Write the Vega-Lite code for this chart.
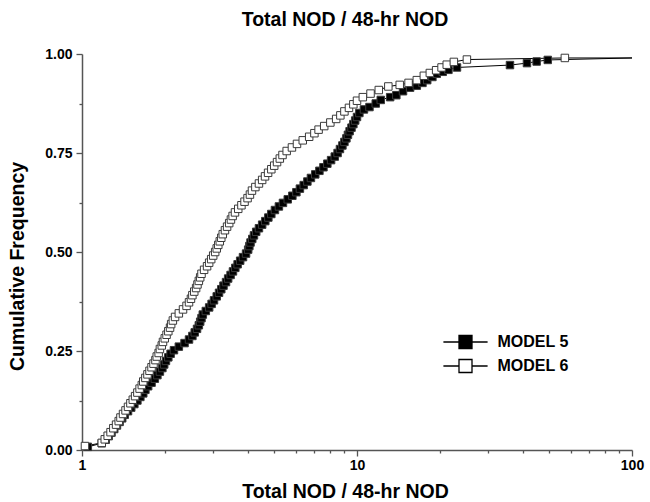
{
  "$schema": "https://vega.github.io/schema/vega-lite/v6.json",
  "width": 550,
  "height": 396,
  "autosize": "none",
  "padding": {"left": 82, "top": 54, "right": 18, "bottom": 52},
  "background": "white",
  "title": {"text": "Total NOD / 48-hr NOD", "font": "Liberation Sans", "fontSize": 19.5, "fontWeight": "bold", "color": "#000", "offset": 17, "dx": -12},
  "config": {"view": {"stroke": null}, "axis": {"grid": false}},
  "data": {"values": [
    {"model":"MODEL 5","x":1.05,"y":0.008},{"model":"MODEL 5","x":1.18,"y":0.017},{"model":"MODEL 5","x":1.22,"y":0.026},{"model":"MODEL 5","x":1.25,"y":0.035},{"model":"MODEL 5","x":1.28,"y":0.044},
    {"model":"MODEL 5","x":1.31,"y":0.053},{"model":"MODEL 5","x":1.34,"y":0.062},{"model":"MODEL 5","x":1.37,"y":0.071},{"model":"MODEL 5","x":1.40,"y":0.080},{"model":"MODEL 5","x":1.43,"y":0.089},
    {"model":"MODEL 5","x":1.47,"y":0.098},{"model":"MODEL 5","x":1.51,"y":0.107},{"model":"MODEL 5","x":1.55,"y":0.116},{"model":"MODEL 5","x":1.59,"y":0.125},{"model":"MODEL 5","x":1.63,"y":0.134},
    {"model":"MODEL 5","x":1.67,"y":0.143},{"model":"MODEL 5","x":1.70,"y":0.152},{"model":"MODEL 5","x":1.74,"y":0.161},{"model":"MODEL 5","x":1.79,"y":0.170},{"model":"MODEL 5","x":1.84,"y":0.180},
    {"model":"MODEL 5","x":1.88,"y":0.189},{"model":"MODEL 5","x":1.92,"y":0.198},{"model":"MODEL 5","x":1.96,"y":0.207},{"model":"MODEL 5","x":1.99,"y":0.216},{"model":"MODEL 5","x":2.02,"y":0.225},
    {"model":"MODEL 5","x":2.06,"y":0.234},{"model":"MODEL 5","x":2.10,"y":0.243},{"model":"MODEL 5","x":2.16,"y":0.252},{"model":"MODEL 5","x":2.25,"y":0.261},{"model":"MODEL 5","x":2.36,"y":0.270},
    {"model":"MODEL 5","x":2.45,"y":0.279},{"model":"MODEL 5","x":2.52,"y":0.288},{"model":"MODEL 5","x":2.57,"y":0.297},{"model":"MODEL 5","x":2.62,"y":0.306},{"model":"MODEL 5","x":2.66,"y":0.315},
    {"model":"MODEL 5","x":2.69,"y":0.324},{"model":"MODEL 5","x":2.72,"y":0.333},{"model":"MODEL 5","x":2.75,"y":0.342},{"model":"MODEL 5","x":2.82,"y":0.351},{"model":"MODEL 5","x":2.90,"y":0.360},
    {"model":"MODEL 5","x":2.96,"y":0.369},{"model":"MODEL 5","x":3.02,"y":0.378},{"model":"MODEL 5","x":3.09,"y":0.388},{"model":"MODEL 5","x":3.15,"y":0.397},{"model":"MODEL 5","x":3.21,"y":0.406},
    {"model":"MODEL 5","x":3.27,"y":0.415},{"model":"MODEL 5","x":3.34,"y":0.424},{"model":"MODEL 5","x":3.40,"y":0.433},{"model":"MODEL 5","x":3.47,"y":0.442},{"model":"MODEL 5","x":3.54,"y":0.451},
    {"model":"MODEL 5","x":3.61,"y":0.460},{"model":"MODEL 5","x":3.68,"y":0.469},{"model":"MODEL 5","x":3.76,"y":0.478},{"model":"MODEL 5","x":3.85,"y":0.487},{"model":"MODEL 5","x":3.95,"y":0.496},
    {"model":"MODEL 5","x":4.02,"y":0.506},{"model":"MODEL 5","x":4.06,"y":0.515},{"model":"MODEL 5","x":4.10,"y":0.524},{"model":"MODEL 5","x":4.16,"y":0.533},{"model":"MODEL 5","x":4.22,"y":0.542},
    {"model":"MODEL 5","x":4.30,"y":0.551},{"model":"MODEL 5","x":4.40,"y":0.560},{"model":"MODEL 5","x":4.52,"y":0.569},{"model":"MODEL 5","x":4.64,"y":0.578},{"model":"MODEL 5","x":4.76,"y":0.587},
    {"model":"MODEL 5","x":4.88,"y":0.596},{"model":"MODEL 5","x":5.03,"y":0.606},{"model":"MODEL 5","x":5.20,"y":0.615},{"model":"MODEL 5","x":5.38,"y":0.624},{"model":"MODEL 5","x":5.60,"y":0.633},
    {"model":"MODEL 5","x":5.82,"y":0.642},{"model":"MODEL 5","x":6.02,"y":0.651},{"model":"MODEL 5","x":6.20,"y":0.660},{"model":"MODEL 5","x":6.40,"y":0.669},{"model":"MODEL 5","x":6.60,"y":0.678},
    {"model":"MODEL 5","x":6.80,"y":0.687},{"model":"MODEL 5","x":7.05,"y":0.696},{"model":"MODEL 5","x":7.30,"y":0.705},{"model":"MODEL 5","x":7.55,"y":0.714},{"model":"MODEL 5","x":7.80,"y":0.723},
    {"model":"MODEL 5","x":8.05,"y":0.732},{"model":"MODEL 5","x":8.30,"y":0.741},{"model":"MODEL 5","x":8.50,"y":0.750},{"model":"MODEL 5","x":8.67,"y":0.760},{"model":"MODEL 5","x":8.85,"y":0.769},
    {"model":"MODEL 5","x":9.00,"y":0.778},{"model":"MODEL 5","x":9.15,"y":0.787},{"model":"MODEL 5","x":9.27,"y":0.796},{"model":"MODEL 5","x":9.40,"y":0.805},{"model":"MODEL 5","x":9.55,"y":0.814},
    {"model":"MODEL 5","x":9.70,"y":0.823},{"model":"MODEL 5","x":9.85,"y":0.832},{"model":"MODEL 5","x":10.0,"y":0.841},{"model":"MODEL 5","x":10.2,"y":0.851},{"model":"MODEL 5","x":10.6,"y":0.860},
    {"model":"MODEL 5","x":11.1,"y":0.866},{"model":"MODEL 5","x":11.7,"y":0.875},{"model":"MODEL 5","x":12.2,"y":0.884},{"model":"MODEL 5","x":13.2,"y":0.891},{"model":"MODEL 5","x":13.9,"y":0.896},
    {"model":"MODEL 5","x":14.7,"y":0.906},{"model":"MODEL 5","x":15.6,"y":0.915},{"model":"MODEL 5","x":16.5,"y":0.920},{"model":"MODEL 5","x":17.3,"y":0.927},{"model":"MODEL 5","x":18.0,"y":0.934},
    {"model":"MODEL 5","x":18.8,"y":0.942},{"model":"MODEL 5","x":19.5,"y":0.950},{"model":"MODEL 5","x":20.5,"y":0.955},{"model":"MODEL 5","x":21.5,"y":0.960},{"model":"MODEL 5","x":23.1,"y":0.966},
    {"model":"MODEL 5","x":36,"y":0.972},{"model":"MODEL 5","x":41.5,"y":0.977},{"model":"MODEL 5","x":45,"y":0.981},{"model":"MODEL 5","x":49.4,"y":0.985},{"model":"MODEL 5","x":100,"y":0.99},
    {"model":"MODEL 6","x":1.025,"y":0.010},{"model":"MODEL 6","x":1.18,"y":0.018},{"model":"MODEL 6","x":1.21,"y":0.027},{"model":"MODEL 6","x":1.24,"y":0.036},{"model":"MODEL 6","x":1.27,"y":0.045},
    {"model":"MODEL 6","x":1.30,"y":0.055},{"model":"MODEL 6","x":1.33,"y":0.064},{"model":"MODEL 6","x":1.36,"y":0.073},{"model":"MODEL 6","x":1.38,"y":0.082},{"model":"MODEL 6","x":1.41,"y":0.091},
    {"model":"MODEL 6","x":1.44,"y":0.100},{"model":"MODEL 6","x":1.47,"y":0.109},{"model":"MODEL 6","x":1.50,"y":0.118},{"model":"MODEL 6","x":1.53,"y":0.127},{"model":"MODEL 6","x":1.56,"y":0.136},
    {"model":"MODEL 6","x":1.59,"y":0.145},{"model":"MODEL 6","x":1.62,"y":0.155},{"model":"MODEL 6","x":1.65,"y":0.164},{"model":"MODEL 6","x":1.67,"y":0.173},{"model":"MODEL 6","x":1.70,"y":0.182},
    {"model":"MODEL 6","x":1.73,"y":0.191},{"model":"MODEL 6","x":1.76,"y":0.200},{"model":"MODEL 6","x":1.79,"y":0.209},{"model":"MODEL 6","x":1.82,"y":0.218},{"model":"MODEL 6","x":1.85,"y":0.227},
    {"model":"MODEL 6","x":1.87,"y":0.236},{"model":"MODEL 6","x":1.90,"y":0.245},{"model":"MODEL 6","x":1.92,"y":0.255},{"model":"MODEL 6","x":1.95,"y":0.264},{"model":"MODEL 6","x":1.97,"y":0.273},
    {"model":"MODEL 6","x":2.00,"y":0.282},{"model":"MODEL 6","x":2.03,"y":0.291},{"model":"MODEL 6","x":2.06,"y":0.300},{"model":"MODEL 6","x":2.09,"y":0.309},{"model":"MODEL 6","x":2.11,"y":0.318},
    {"model":"MODEL 6","x":2.14,"y":0.327},{"model":"MODEL 6","x":2.18,"y":0.336},{"model":"MODEL 6","x":2.25,"y":0.345},{"model":"MODEL 6","x":2.33,"y":0.355},{"model":"MODEL 6","x":2.40,"y":0.364},
    {"model":"MODEL 6","x":2.45,"y":0.373},{"model":"MODEL 6","x":2.49,"y":0.382},{"model":"MODEL 6","x":2.52,"y":0.391},{"model":"MODEL 6","x":2.56,"y":0.400},{"model":"MODEL 6","x":2.60,"y":0.409},
    {"model":"MODEL 6","x":2.63,"y":0.418},{"model":"MODEL 6","x":2.66,"y":0.427},{"model":"MODEL 6","x":2.69,"y":0.436},{"model":"MODEL 6","x":2.72,"y":0.445},{"model":"MODEL 6","x":2.78,"y":0.455},
    {"model":"MODEL 6","x":2.85,"y":0.464},{"model":"MODEL 6","x":2.90,"y":0.473},{"model":"MODEL 6","x":2.95,"y":0.482},{"model":"MODEL 6","x":3.00,"y":0.491},{"model":"MODEL 6","x":3.05,"y":0.500},
    {"model":"MODEL 6","x":3.09,"y":0.509},{"model":"MODEL 6","x":3.13,"y":0.518},{"model":"MODEL 6","x":3.17,"y":0.527},{"model":"MODEL 6","x":3.21,"y":0.536},{"model":"MODEL 6","x":3.25,"y":0.545},
    {"model":"MODEL 6","x":3.31,"y":0.555},{"model":"MODEL 6","x":3.37,"y":0.564},{"model":"MODEL 6","x":3.43,"y":0.573},{"model":"MODEL 6","x":3.48,"y":0.582},{"model":"MODEL 6","x":3.53,"y":0.591},
    {"model":"MODEL 6","x":3.60,"y":0.600},{"model":"MODEL 6","x":3.70,"y":0.609},{"model":"MODEL 6","x":3.80,"y":0.618},{"model":"MODEL 6","x":3.90,"y":0.627},{"model":"MODEL 6","x":4.00,"y":0.636},
    {"model":"MODEL 6","x":4.08,"y":0.645},{"model":"MODEL 6","x":4.15,"y":0.655},{"model":"MODEL 6","x":4.27,"y":0.664},{"model":"MODEL 6","x":4.40,"y":0.673},{"model":"MODEL 6","x":4.52,"y":0.682},
    {"model":"MODEL 6","x":4.63,"y":0.691},{"model":"MODEL 6","x":4.75,"y":0.700},{"model":"MODEL 6","x":4.88,"y":0.709},{"model":"MODEL 6","x":5.00,"y":0.718},{"model":"MODEL 6","x":5.12,"y":0.727},
    {"model":"MODEL 6","x":5.24,"y":0.736},{"model":"MODEL 6","x":5.36,"y":0.745},{"model":"MODEL 6","x":5.55,"y":0.755},{"model":"MODEL 6","x":5.80,"y":0.764},{"model":"MODEL 6","x":6.05,"y":0.773},
    {"model":"MODEL 6","x":6.35,"y":0.782},{"model":"MODEL 6","x":6.70,"y":0.791},{"model":"MODEL 6","x":7.00,"y":0.800},{"model":"MODEL 6","x":7.25,"y":0.809},{"model":"MODEL 6","x":7.60,"y":0.818},
    {"model":"MODEL 6","x":8.00,"y":0.827},{"model":"MODEL 6","x":8.40,"y":0.836},{"model":"MODEL 6","x":8.70,"y":0.845},{"model":"MODEL 6","x":9.00,"y":0.855},{"model":"MODEL 6","x":9.35,"y":0.864},
    {"model":"MODEL 6","x":9.70,"y":0.873},{"model":"MODEL 6","x":10.0,"y":0.882},{"model":"MODEL 6","x":10.5,"y":0.891},{"model":"MODEL 6","x":11.2,"y":0.900},{"model":"MODEL 6","x":12.0,"y":0.909},
    {"model":"MODEL 6","x":13.0,"y":0.918},{"model":"MODEL 6","x":14.3,"y":0.922},{"model":"MODEL 6","x":15.4,"y":0.927},{"model":"MODEL 6","x":16.5,"y":0.934},{"model":"MODEL 6","x":17.5,"y":0.945},
    {"model":"MODEL 6","x":18.4,"y":0.952},{"model":"MODEL 6","x":19.4,"y":0.959},{"model":"MODEL 6","x":20.3,"y":0.966},{"model":"MODEL 6","x":21.2,"y":0.973},{"model":"MODEL 6","x":22.5,"y":0.980},
    {"model":"MODEL 6","x":25.1,"y":0.986},{"model":"MODEL 6","x":57,"y":0.990},{"model":"MODEL 6","x":100,"y":0.990}
  ]},
  "encoding": {
    "x": {
      "field": "x", "type": "quantitative",
      "scale": {"type": "log", "domain": [1, 100], "nice": false},
      "axis": {
        "title": "Total NOD / 48-hr NOD", "titleFont": "Liberation Sans", "titleFontSize": 19.5, "titleFontWeight": "bold", "titleColor": "#000", "titlePadding": 10, "titleX": 263,
        "values": [1,2,3,4,5,6,7,8,9,10,20,30,40,50,60,70,80,90,100],
        "labelExpr": "datum.value == 1 || datum.value == 10 || datum.value == 100 ? format(datum.value, 'd') : ''",
        "labelFont": "Liberation Sans", "labelFontSize": 14, "labelFontWeight": "bold", "labelColor": "#000",
        "labelOverlap": false, "labelFlush": false, "labelPadding": 2,
        "tickSize": {"condition": {"test": "datum.value == 1 || datum.value == 10 || datum.value == 100", "value": 6}, "value": 3},
        "tickColor": "#555", "tickWidth": 1.3, "domainColor": "#555", "domainWidth": 1.5
      }
    },
    "y": {
      "field": "y", "type": "quantitative",
      "scale": {"domain": [0, 1], "nice": false},
      "axis": {
        "title": "Cumulative Frequency", "titleFont": "Liberation Sans", "titleFontSize": 19.5, "titleFontWeight": "bold", "titleColor": "#000", "titleX": -55, "titleY": 212,
        "values": [0, 0.125, 0.25, 0.375, 0.5, 0.625, 0.75, 0.875, 1],
        "labelExpr": "datum.value * 4 == floor(datum.value * 4) ? format(datum.value, '.2f') : ''",
        "labelFont": "Liberation Sans", "labelFontSize": 14, "labelFontWeight": "bold", "labelColor": "#000",
        "labelOverlap": false, "labelFlush": false, "labelPadding": 4,
        "tickSize": {"condition": {"test": "datum.value * 4 == floor(datum.value * 4)", "value": 6}, "value": 3},
        "tickColor": "#555", "tickWidth": 1.3, "domainColor": "#555", "domainWidth": 1.5
      }
    }
  },
  "layer": [
    {
      "mark": {"type": "line", "color": "#000", "strokeWidth": 1},
      "encoding": {"detail": {"field": "model", "type": "nominal"}}
    },
    {
      "transform": [{"filter": "datum.x < 99"}],
      "mark": {"type": "point", "shape": "square", "size": 56, "filled": true, "opacity": 1, "stroke": "#3a3a3a", "strokeWidth": 1},
      "encoding": {
        "fill": {
          "field": "model", "type": "nominal",
          "scale": {"domain": ["MODEL 5", "MODEL 6"], "range": ["#000000", "#ffffff"]},
          "legend": {
            "orient": "none", "legendX": 375.5, "legendY": 280, "title": null,
            "symbolType": "M-3.4,0H-1M1,0H3.4M-1,-1H1V1H-1Z", "symbolSize": 169,
            "symbolStrokeColor": "#000", "symbolStrokeWidth": 1.3,
            "labelFont": "Liberation Sans", "labelFontSize": 16, "labelFontWeight": "bold", "labelColor": "#000",
            "labelOffset": 24, "rowPadding": 4
          }
        }
      }
    }
  ]
}
